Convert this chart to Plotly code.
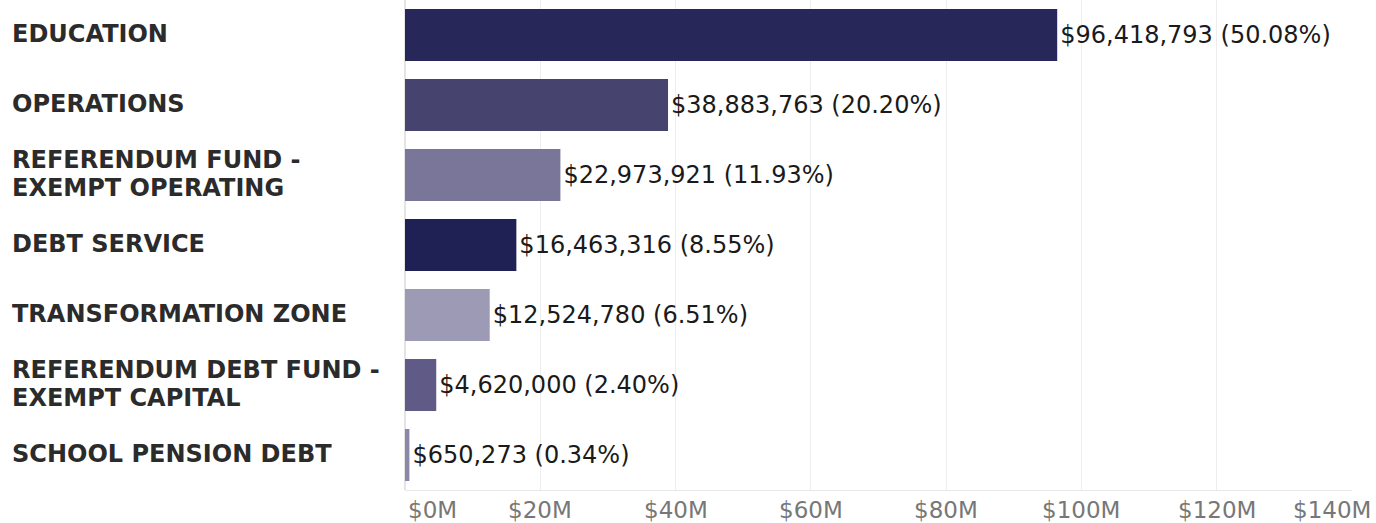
import plotly.graph_objects as go

# Fund categories, top to bottom
categories = [
    "EDUCATION",
    "OPERATIONS",
    "REFERENDUM FUND - EXEMPT OPERATING",
    "DEBT SERVICE",
    "TRANSFORMATION ZONE",
    "REFERENDUM DEBT FUND - EXEMPT CAPITAL",
    "SCHOOL PENSION DEBT",
]
# How each category name wraps on the left side
label_lines = [
    ["EDUCATION"],
    ["OPERATIONS"],
    ["REFERENDUM FUND -", "EXEMPT OPERATING"],
    ["DEBT SERVICE"],
    ["TRANSFORMATION ZONE"],
    ["REFERENDUM DEBT FUND -", "EXEMPT CAPITAL"],
    ["SCHOOL PENSION DEBT"],
]
amounts = [96418793, 38883763, 22973921, 16463316, 12524780, 4620000, 650273]
bar_colors = ["#272859", "#46436f", "#79769a", "#1f2155", "#9c9ab5", "#5f5b86", "#8a87a8"]

tick_values = [0, 20e6, 40e6, 60e6, 80e6, 100e6, 120e6, 140e6]
tick_text = ["$0M", "$20M", "$40M", "$60M", "$80M", "$100M", "$120M", "$140M"]

total = sum(amounts)
bar_text = [f"${v:,} ({v / total * 100:.2f}%)" for v in amounts]

fig = go.Figure(
    go.Bar(
        x=amounts,
        y=categories,
        orientation="h",
        marker=dict(color=bar_colors, line=dict(width=0)),
        text=bar_text,
        textposition="outside",
        constraintext="none",
        cliponaxis=False,
        textfont=dict(family="DejaVu Sans", size=24, color="#1a1a1a"),
        hoverinfo="skip",
    )
)

# Category names drawn at the left, one annotation per wrapped line
LINE_STEP = 28
annotations = []
for cat, lines in zip(categories, label_lines):
    n = len(lines)
    for i, line in enumerate(lines):
        shift = 1 + (n - 1) * LINE_STEP / 2 - i * LINE_STEP
        annotations.append(dict(
            x=0, xref="paper", xanchor="left", xshift=-395,
            y=cat, yref="y", yanchor="middle", yshift=shift,
            text=line, showarrow=False,
            font=dict(family="DejaVu Sans", size=24, color="#2b2b2b", weight="bold"),
        ))

# Axis tick labels, kept inside the figure at both ends
for i, (tv, tt) in enumerate(zip(tick_values, tick_text)):
    if i == 0:
        anchor, xs = "left", 1
    elif i == len(tick_values) - 1:
        anchor, xs = "right", 21
    else:
        anchor, xs = "center", 0
    annotations.append(dict(
        x=tv, xref="x", xanchor=anchor, xshift=xs,
        y=0, yref="paper", yanchor="top", yshift=-5,
        text=tt, showarrow=False,
        font=dict(family="DejaVu Sans", size=23, color="#777777"),
    ))

fig.update_layout(
    width=1376,
    height=523,
    margin=dict(l=405, r=24, t=0, b=33),
    paper_bgcolor="white",
    plot_bgcolor="white",
    bargap=0.257,
    showlegend=False,
    annotations=annotations,
    xaxis=dict(
        range=[0, 140e6],
        tickvals=tick_values,
        showticklabels=False,
        showgrid=True,
        gridcolor="#ededed",
        gridwidth=1,
        zeroline=True,
        zerolinecolor="#e4e4e4",
        showline=True,
        linecolor="#e8e8e8",
        fixedrange=True,
    ),
    yaxis=dict(
        categoryorder="array",
        categoryarray=categories,
        autorange="reversed",
        showticklabels=False,
        showgrid=False,
        zeroline=False,
        fixedrange=True,
    ),
)

fig.write_html("out.html")
